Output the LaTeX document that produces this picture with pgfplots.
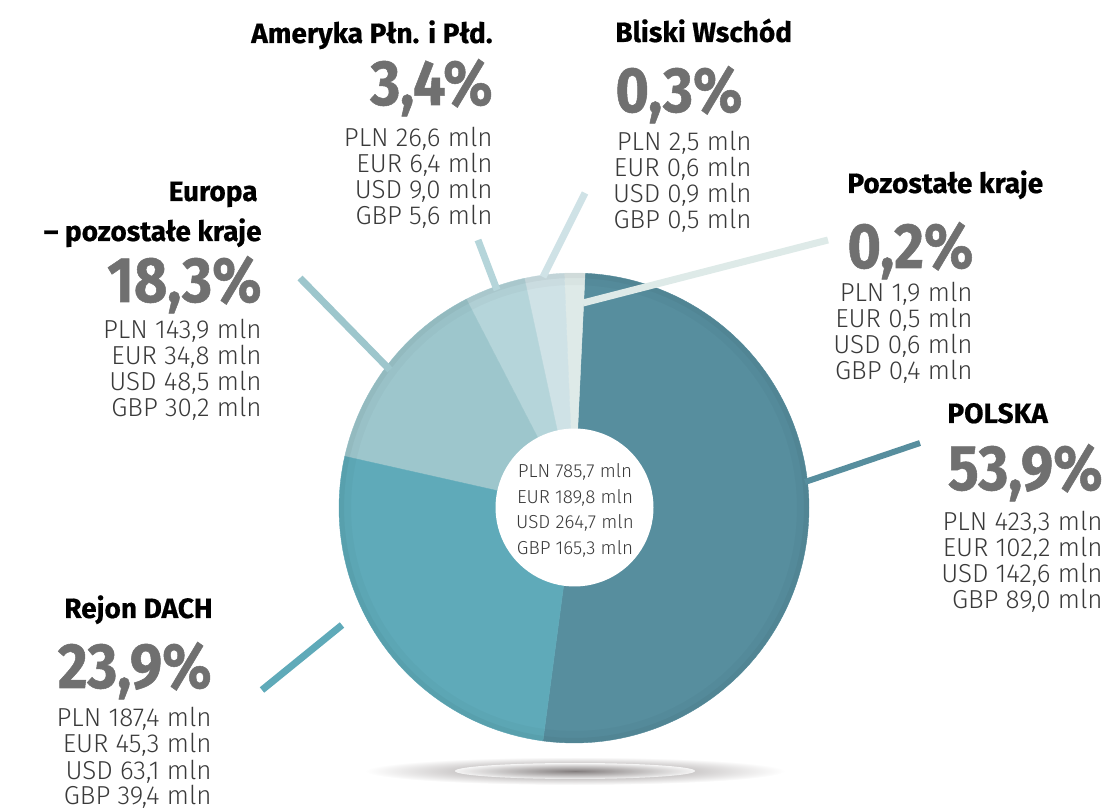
\documentclass[border=0pt]{standalone}
\usepackage{pgfplots}
\pgfplotsset{compat=1.18}
\usepackage{fontspec}
\setmainfont{Fira Sans}
\newfontfamily\lightf{Fira Sans Light}
\newfontfamily\headf{Fira Sans}[FakeBold=0.6]
\newfontfamily\pctf{Fira Sans}[FakeStretch=0.9,FakeBold=0.8]

\definecolor{cPL}{HTML}{578E9E}
\definecolor{cDA}{HTML}{5FAAB9}
\definecolor{cEU}{HTML}{9DC6CC}
\definecolor{cAM}{HTML}{B5D5DA}
\definecolor{cBW}{HTML}{CFE2E6}
\definecolor{cPK}{HTML}{DEEAE8}
\definecolor{pctgray}{HTML}{707070}
\definecolor{valgray}{HTML}{3A3A3A}
\definecolor{shadowc}{HTML}{8E8888}

% value lines: x, first baseline (axis units = px, y up), anchor, four lines
\newcommand{\vals}[7]{%
  \node[anchor=#3,font=\lightf\fontsize{13}{13}\selectfont,text=valgray,inner sep=0pt] at (axis cs:#1,#2) {#4};
  \node[anchor=#3,font=\lightf\fontsize{13}{13}\selectfont,text=valgray,inner sep=0pt] at (axis cs:#1,#2-26) {#5};
  \node[anchor=#3,font=\lightf\fontsize{13}{13}\selectfont,text=valgray,inner sep=0pt] at (axis cs:#1,#2-52) {#6};
  \node[anchor=#3,font=\lightf\fontsize{13}{13}\selectfont,text=valgray,inner sep=0pt] at (axis cs:#1,#2-78) {#7};
}
\newcommand{\head}[4]{\node[anchor=#3,font=\headf\bfseries\fontsize{14}{14}\selectfont,text=black,inner sep=0pt] at (axis cs:#1,#2) {#4};}
\newcommand{\pct}[4]{\node[anchor=#3,font=\pctf\bfseries\fontsize{32}{32}\selectfont,text=pctgray,inner sep=0pt] at (axis cs:#1,#2) {#4};}

\begin{document}
\begin{tikzpicture}
\begin{axis}[hide axis, scale only axis, width=554.5pt, height=404.5pt,
  xmin=0, xmax=1109, ymin=0, ymax=809, clip=false,
  at={(0,0)}, anchor=south west]

% shadow below the pie
\shade[inner color=shadowc, outer color=white] (axis cs:575,38) ellipse [x radius=105pt, y radius=7pt];
\shade[inner color=shadowc!90!black, outer color=white, opacity=0.8] (axis cs:575,38) ellipse [x radius=60pt, y radius=4pt];

% Pie sectors (drawn angles, degrees ccw; shares: PL 53.9, DACH 23.9, EU 18.3, AM 3.4, BW 0.3, PK 0.2 %)
\addplot[fill=cPL, draw=cPL, line width=0.2pt, domain=-97.6:87.3, samples=90, variable=\t] ({574+235*cos(\t)},{301+235*sin(\t)}) -- (574,301) -- cycle;
\addplot[fill=cPK, draw=cPK, line width=0.2pt, domain=87.3:92.4, samples=5, variable=\t] ({574+235*cos(\t)},{301+235*sin(\t)}) -- (574,301) -- cycle;
\addplot[fill=cBW, draw=cBW, line width=0.2pt, domain=92.4:102.2, samples=8, variable=\t] ({574+235*cos(\t)},{301+235*sin(\t)}) -- (574,301) -- cycle;
\addplot[fill=cAM, draw=cAM, line width=0.2pt, domain=102.2:117.3, samples=10, variable=\t] ({574+235*cos(\t)},{301+235*sin(\t)}) -- (574,301) -- cycle;
\addplot[fill=cEU, draw=cEU, line width=0.2pt, domain=117.3:167.3, samples=30, variable=\t] ({574+235*cos(\t)},{301+235*sin(\t)}) -- (574,301) -- cycle;
\addplot[fill=cDA, draw=cDA, line width=0.2pt, domain=167.3:262.4, samples=50, variable=\t] ({574+235*cos(\t)},{301+235*sin(\t)}) -- (574,301) -- cycle;

% subtle edge darkening
\addplot[draw=black, opacity=0.025, line width=6pt, domain=0:360, samples=120, variable=\t] ({574+229*cos(\t)},{301+229*sin(\t)});
\addplot[draw=black, opacity=0.035, line width=2.5pt, domain=0:360, samples=120, variable=\t] ({574+232.5*cos(\t)},{301+232.5*sin(\t)});

% hole
\addplot[fill=white, draw=none, domain=0:360, samples=90, variable=\t] ({574.5+79*cos(\t)},{301.5+79*sin(\t)}) -- cycle;

% leader lines
\addplot[cPL, line width=3pt] coordinates {(805,327) (920,366)};
\addplot[cPK, line width=3.5pt] coordinates {(583,506) (828,569)};
\addplot[cBW, line width=3.5pt] coordinates {(543,532) (585,616)};
\addplot[cAM, line width=3.5pt] coordinates {(497,519) (478,569)};
\addplot[cEU, line width=3.5pt] coordinates {(390,439) (300,531)};
\addplot[cDA, line width=3.5pt] coordinates {(342,184) (262,119)};

% centre totals
\node[anchor=base,font=\lightf\fontsize{9.4}{9.4}\selectfont,text=valgray,inner sep=0pt] at (axis cs:575,331) {PLN 785,7 mln};
\node[anchor=base,font=\lightf\fontsize{9.4}{9.4}\selectfont,text=valgray,inner sep=0pt] at (axis cs:575,305) {EUR 189,8 mln};
\node[anchor=base,font=\lightf\fontsize{9.4}{9.4}\selectfont,text=valgray,inner sep=0pt] at (axis cs:575,280) {USD 264,7 mln};
\node[anchor=base,font=\lightf\fontsize{9.4}{9.4}\selectfont,text=valgray,inner sep=0pt] at (axis cs:575,254) {GBP 165,3 mln};

% Ameryka
\head{493}{766}{base east}{Ameryka Płn. i Płd.}
\pct{493}{704}{base east}{3,4\%}
\vals{493}{662}{base east}{PLN 26,6 mln}{EUR 6,4 mln}{USD 9,0 mln}{GBP 5,6 mln}

% Bliski Wschod
\head{615}{767}{base west}{Bliski Wschód}
\pct{615}{697}{base west}{0,3\%}
\vals{752}{658}{base east}{PLN 2,5 mln}{EUR 0,6 mln}{USD 0,9 mln}{GBP 0,5 mln}

% Pozostale kraje
\head{847}{616}{base west}{Pozostałe kraje}
\pct{847}{541}{base west}{0,2\%}
\vals{973}{507}{base east}{PLN 1,9 mln}{EUR 0,5 mln}{USD 0,6 mln}{GBP 0,4 mln}

% Polska
\head{947}{386}{base west}{POLSKA}
\pct{1103}{319}{base east}{53,9\%}
\vals{1103}{278}{base east}{PLN 423,3 mln}{EUR 102,2 mln}{USD 142,6 mln}{GBP 89,0 mln}

% Europa
\head{258}{608}{base east}{Europa}
\head{262}{568}{base east}{– pozostałe kraje}
\pct{262}{507}{base east}{18,3\%}
\vals{262}{470}{base east}{PLN 143,9 mln}{EUR 34,8 mln}{USD 48,5 mln}{GBP 30,2 mln}

% DACH
\head{213}{191}{base east}{Rejon DACH}
\pct{212}{121}{base east}{23,9\%}
\vals{212}{82}{base east}{PLN 187,4 mln}{EUR 45,3 mln}{USD 63,1 mln}{GBP 39,4 mln}

\end{axis}
\pgfresetboundingbox
\useasboundingbox (0,0) rectangle (554.5pt,404.5pt);
\end{tikzpicture}
\end{document}
